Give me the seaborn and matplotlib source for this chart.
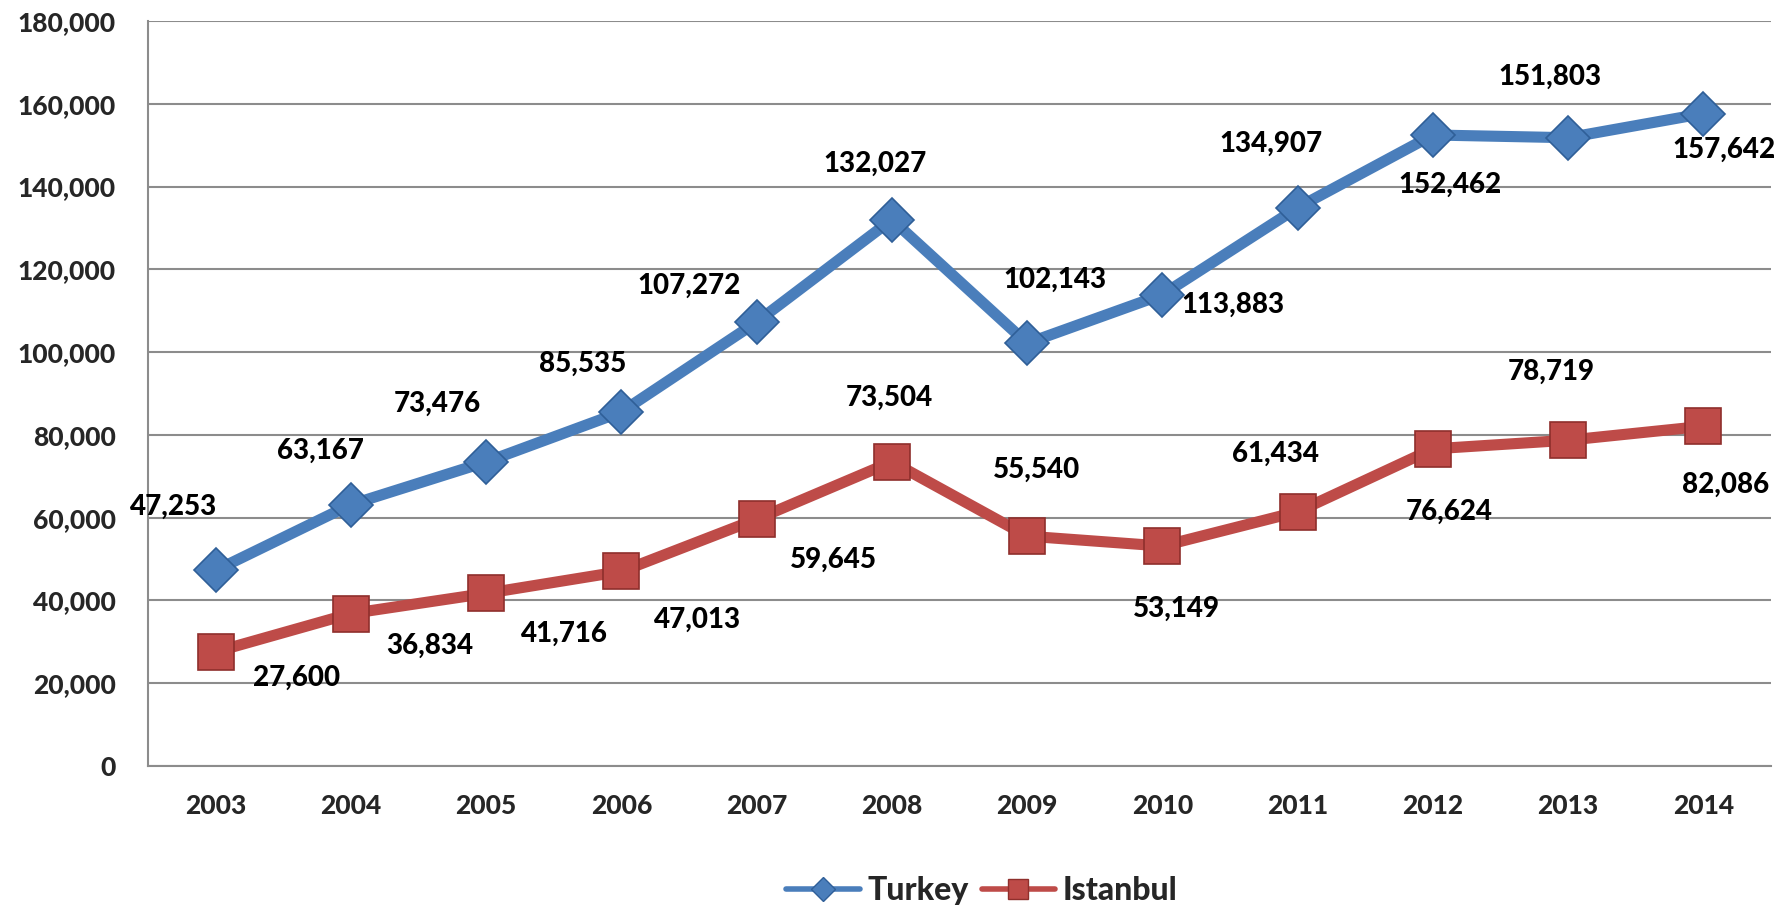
import matplotlib
matplotlib.use("Agg")
import matplotlib.pyplot as plt
from matplotlib.lines import Line2D
from matplotlib.ticker import FuncFormatter, FixedLocator
import numpy as np
import pandas as pd
import seaborn as sns

years = ["2003", "2004", "2005", "2006", "2007", "2008",
         "2009", "2010", "2011", "2012", "2013", "2014"]
turkey = [47253, 63167, 73476, 85535, 107272, 132027,
          102143, 113883, 134907, 152462, 151803, 157642]
istanbul = [27600, 36834, 41716, 47013, 59645, 73504,
            55540, 53149, 61434, 76624, 78719, 82086]
series_names = ["Turkey", "Istanbul"]

# label offsets (points) relative to each marker
turkey_offsets = [(-30, 46), (-22, 39), (-35, 42), (-28, 35), (-49, 26), (-12, 40),
                  (20, 46), (51, -7), (-19, 46), (12, -36), (-13, 44), (15, -26)]
istanbul_offsets = [(58, -19), (57, -23), (56, -29), (55, -35), (55, -29), (-2, 46),
                    (7, 48), (10, -45), (-16, 42), (12, -45), (-12, 49), (16, -42)]

colors = {"Turkey": "#4a7ebb", "Istanbul": "#be4b48"}
edges = {"Turkey": "#2f5f98", "Istanbul": "#8f2f2c"}

df = pd.DataFrame({
    "pos": list(range(len(years))) * 2,
    "value": turkey + istanbul,
    "series": [series_names[0]] * len(years) + [series_names[1]] * len(years),
})

sns.set_style("white")
plt.rcParams["font.family"] = ["Lato", "DejaVu Sans"]
WEIGHT = "black"
plt.rcParams["font.weight"] = WEIGHT

fig = plt.figure(figsize=(17.92, 9.09), dpi=100)
ax = fig.add_axes([0.0826, 0.1573, 0.9057, 0.8196])

for name, vals, mk, ms in [("Turkey", turkey, "D", 22), ("Istanbul", istanbul, "s", 26)]:
    sub = df[df["series"] == name]
    sns.lineplot(data=sub, x="pos", y="value", ax=ax, color=colors[name],
                 linewidth=8, marker=mk, markersize=ms,
                 markerfacecolor=colors[name], markeredgecolor=edges[name],
                 markeredgewidth=1.2, legend=False, zorder=3)

for vals, offs in [(turkey, turkey_offsets), (istanbul, istanbul_offsets)]:
    for i, (v, (dx, dy)) in enumerate(zip(vals, offs)):
        ax.annotate(f"{v:,}", (i, v), xytext=(dx, dy), textcoords="offset points",
                    ha="center", va="center", fontsize=20, fontweight=WEIGHT,
                    color="black", zorder=4)

ax.set_xlim(-0.5, len(years) - 0.5)
ax.set_ylim(0, 180000)
ax.set_yticks(np.arange(0, 180001, 20000))
ax.yaxis.set_major_formatter(FuncFormatter(lambda v, p: f"{int(v):,}"))
ax.set_xticks(range(len(years)))
ax.set_xticklabels(years)
ax.xaxis.set_minor_locator(FixedLocator(np.arange(-0.5, len(years), 1.0)))
ax.tick_params(axis="x", which="major", length=0, pad=20, labelsize=19)
ax.tick_params(axis="x", which="minor", length=9, width=1.5, color="#8c8c8c", direction="out")
ax.tick_params(axis="y", which="major", length=9, width=1.5, color="#8c8c8c",
               direction="out", labelsize=19, pad=14)
for lbl in ax.get_xticklabels() + ax.get_yticklabels():
    lbl.set_fontweight(WEIGHT)

ax.grid(axis="y", color="#8c8c8c", linewidth=1.5)
ax.grid(axis="x", visible=False)
ax.set_axisbelow(True)
ax.set_xlabel("")
ax.set_ylabel("")
for side in ["top", "right"]:
    ax.spines[side].set_visible(False)
for side in ["left", "bottom"]:
    ax.spines[side].set_color("#8c8c8c")
    ax.spines[side].set_linewidth(1.5)

handles = [
    Line2D([], [], color=colors["Turkey"], linewidth=4, marker="D", markersize=12,
           markerfacecolor=colors["Turkey"], markeredgecolor=edges["Turkey"]),
    Line2D([], [], color=colors["Istanbul"], linewidth=4, marker="s", markersize=14,
           markerfacecolor=colors["Istanbul"], markeredgecolor=edges["Istanbul"]),
]
leg = fig.legend(handles, series_names, loc="center", bbox_to_anchor=(0.548, 0.02),
                 ncol=2, frameon=False, handlelength=2.3, handletextpad=0.25,
                 columnspacing=0.4, prop={"size": 23, "weight": WEIGHT})

fig.savefig("out.png", dpi=100)
